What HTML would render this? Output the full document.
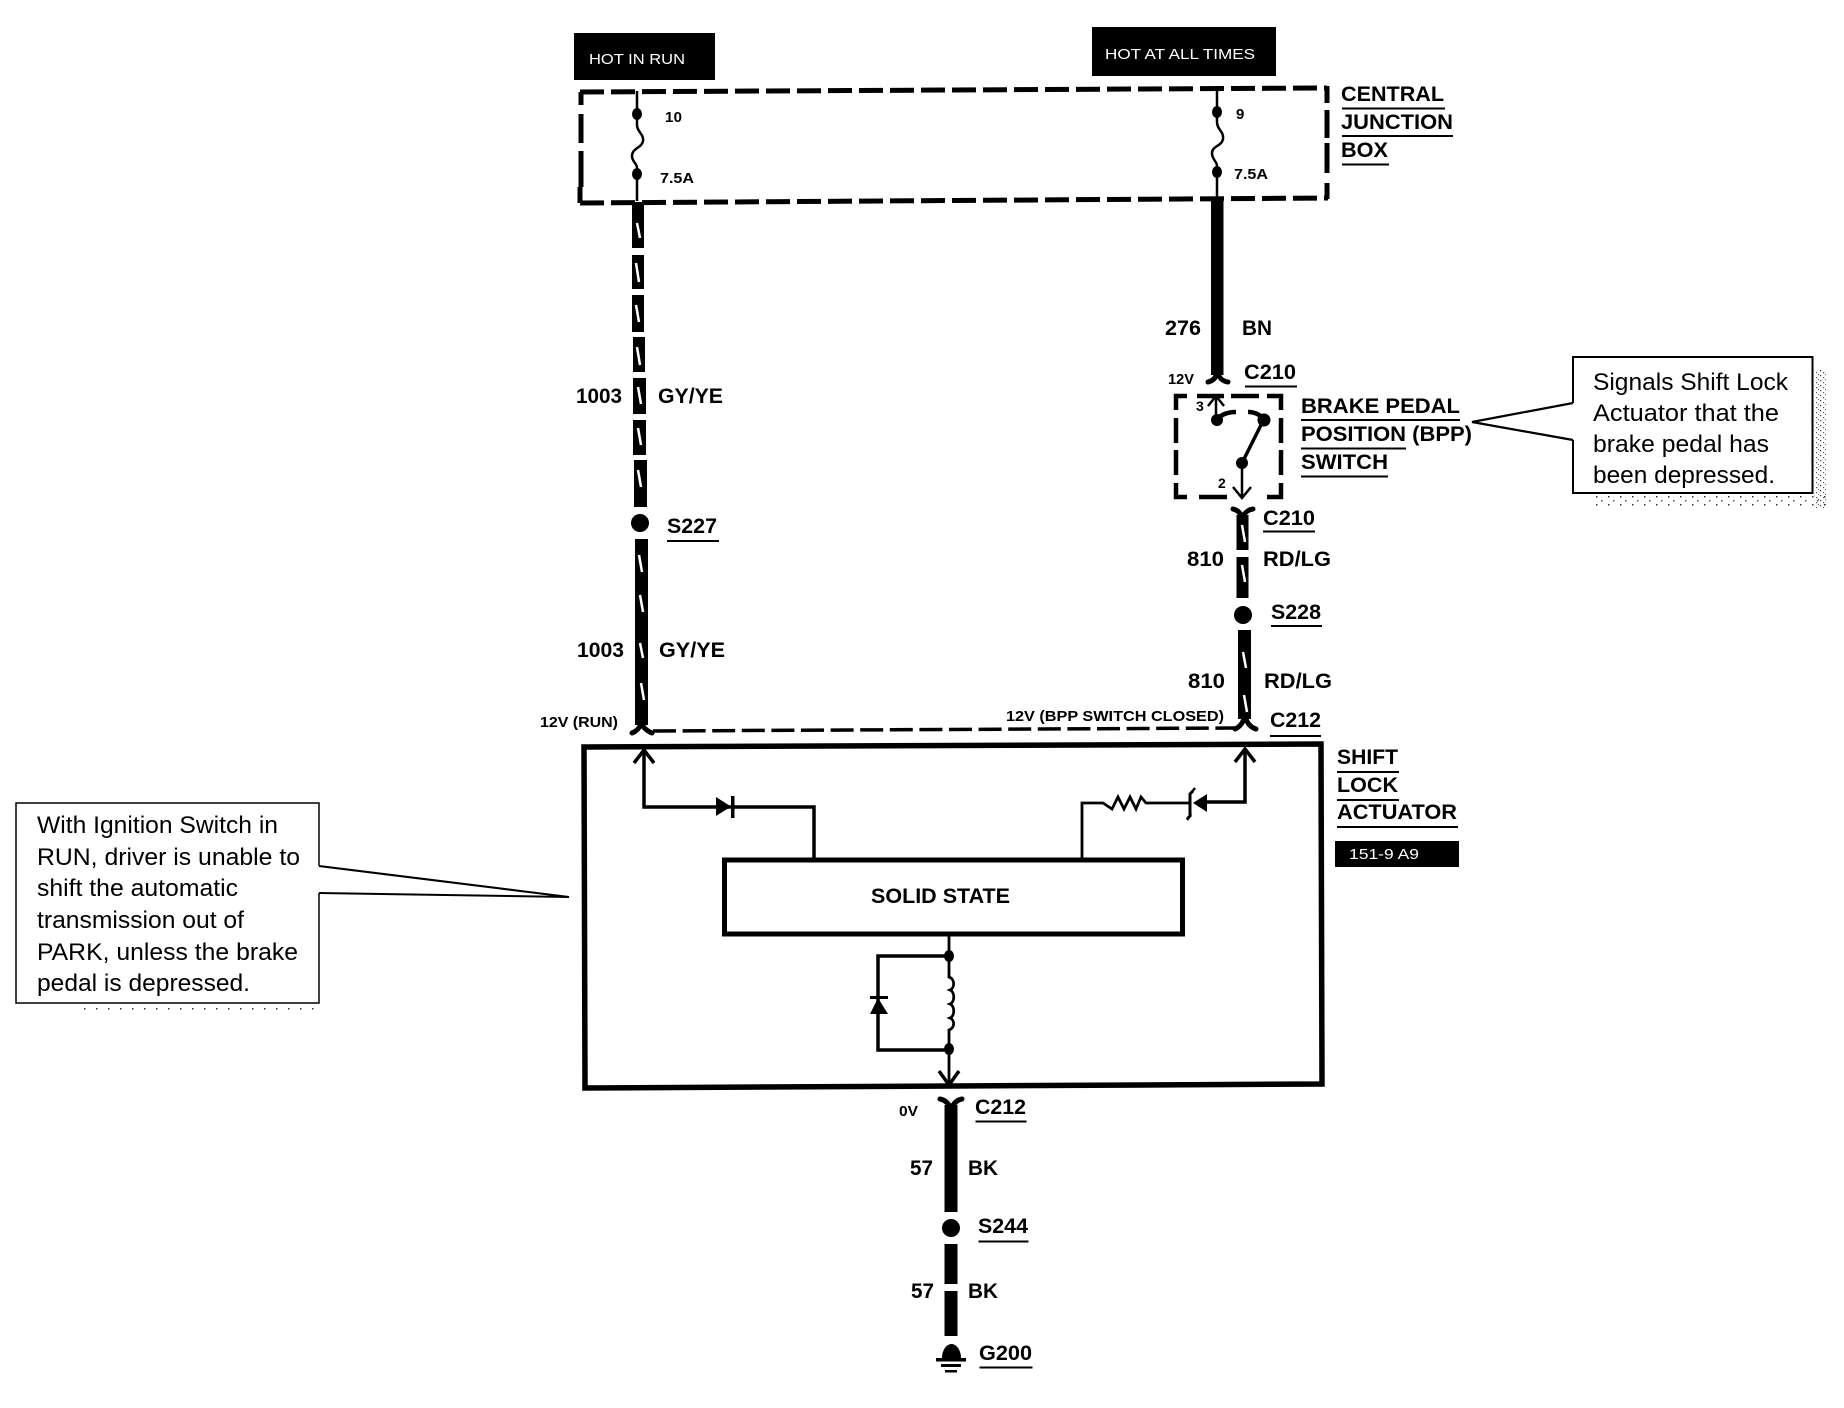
<!DOCTYPE html>
<html><head><meta charset="utf-8"><style>
html,body{margin:0;padding:0;background:#fff}
svg{display:block}
text{font-family:"Liberation Sans",Arial,sans-serif;fill:#000;transform:translate(-1px,-1px)}
.b{font-weight:bold}
.f21{font-size:21px;font-weight:bold}
.f15{font-size:15px;font-weight:bold}
.r{font-size:24.5px}
.w{fill:#fff;font-size:15px}
</style></head><body>
<svg width="1844" height="1408" viewBox="0 0 1844 1408" xmlns="http://www.w3.org/2000/svg">
<defs>
<pattern id="n" width="7" height="5" patternUnits="userSpaceOnUse"><rect x="0" y="0" width="1.2" height="1.2" fill="#333"/><rect x="3" y="2" width="1.2" height="1.2" fill="#555"/><rect x="5" y="4" width="1" height="1" fill="#666"/></pattern>
<pattern id="m" width="12" height="8" patternUnits="userSpaceOnUse"><rect x="0" y="0" width="1.5" height="1.5" fill="#333"/><rect x="5" y="4" width="1.5" height="1.5" fill="#555"/></pattern>
</defs>
<rect width="1844" height="1408" fill="#fff"/>

<!-- header tags -->
<rect x="574" y="33" width="141" height="47" fill="#000"/>
<text class="w" x="590" y="65" textLength="96" lengthAdjust="spacingAndGlyphs">HOT IN RUN</text>
<rect x="1092" y="27" width="184" height="49" fill="#000"/>
<text class="w" x="1106" y="60" textLength="150" lengthAdjust="spacingAndGlyphs">HOT AT ALL TIMES</text>

<!-- central junction box dashed -->
<g fill="none" stroke="#000" stroke-width="5">
<path d="M580,92L1327,88" stroke-dasharray="24 7"/>
<path d="M580,203L1328,198" stroke-dasharray="24 7"/>
<path d="M581,105V92M581,114V143M581,151V187M580,187V203M1327,86V103M1327,110V138M1327,143V173M1327,183V199"/>
</g>

<!-- fuses -->
<g fill="none" stroke="#000" stroke-width="2.5">
<path d="M637,91V125C637,132 644,134 643,141C642,148 632,148 632,156C632,162 637,163 637,168V201"/>
<path d="M1217,88V122C1217,130 1224,131 1223,139C1222,146 1212,146 1212,153C1212,160 1217,161 1217,166V198"/>
</g>
<ellipse cx="637" cy="114" rx="5" ry="6"/><ellipse cx="637" cy="174" rx="5" ry="6"/>
<ellipse cx="1217" cy="112" rx="5" ry="6"/><ellipse cx="1217" cy="172" rx="5" ry="6"/>
<text class="b" font-size="15" x="666" y="123" textLength="17">10</text>
<text class="b" font-size="15" x="661" y="184" textLength="34" lengthAdjust="spacingAndGlyphs">7.5A</text>
<text class="b" font-size="15" x="1237" y="120">9</text>
<text class="b" font-size="15" x="1235" y="180" textLength="34" lengthAdjust="spacingAndGlyphs">7.5A</text>

<text class="f21" x="1342" y="102" textLength="103" lengthAdjust="spacingAndGlyphs">CENTRAL</text>
<text class="f21" x="1342" y="130" textLength="112" lengthAdjust="spacingAndGlyphs">JUNCTION</text>
<text class="f21" x="1342" y="158" textLength="47" lengthAdjust="spacingAndGlyphs">BOX</text>
<path d="M1342,108.5H1445M1342,136H1453M1342,164.5H1389" stroke="#000" stroke-width="2" fill="none"/>

<!-- left wire -->
<g>
<rect x="632" y="202" width="12" height="46"/>
<rect x="632" y="255" width="12" height="34"/>
<rect x="632" y="295" width="12" height="37"/>
<rect x="633" y="337" width="12" height="35"/>
<rect x="633" y="378" width="13" height="36"/>
<rect x="633" y="420" width="13" height="35"/>
<rect x="634" y="460" width="13" height="47"/>
<circle cx="640" cy="523" r="9"/>
<rect x="635" y="539" width="13" height="186"/>
</g>
<path d="M632,733C637,731 640,728 641,722C643,728 647,731 652,733" fill="none" stroke="#000" stroke-width="5" stroke-linecap="round"/>
<path d="M637,223L640,238M636,263L639,282M636,305L639,322M637,347L640,365M638,387L641,404M638,428L641,445M638,470L641,487M639,555L642,572M640,595L643,612M640,643L643,658M641,683L644,700" stroke="#fff" stroke-width="2.5" fill="none"/>
<text class="f21" x="577" y="404" textLength="46" lengthAdjust="spacingAndGlyphs">1003</text>
<text class="f21" x="659" y="404" textLength="65" lengthAdjust="spacingAndGlyphs">GY/YE</text>
<text class="f21" x="668" y="534" textLength="50" lengthAdjust="spacingAndGlyphs">S227</text>
<path d="M667,541H719" stroke="#000" stroke-width="2"/>
<text class="f21" x="578" y="658" textLength="47" lengthAdjust="spacingAndGlyphs">1003</text>
<text class="f21" x="660" y="658" textLength="66" lengthAdjust="spacingAndGlyphs">GY/YE</text>
<text class="f15" x="541" y="728" textLength="78" lengthAdjust="spacingAndGlyphs">12V (RUN)</text>

<!-- dashed signal line -->
<path d="M653,731L1236,728" stroke="#000" stroke-width="3.5" stroke-dasharray="23 6.6" fill="none"/>
<text class="f15" x="1007" y="722" textLength="218" lengthAdjust="spacingAndGlyphs">12V (BPP SWITCH CLOSED)</text>

<!-- right wire top -->
<rect x="1211" y="197" width="12.5" height="178"/>
<path d="M1208,382C1213,381 1216,378 1217.5,372C1219,378 1222,381 1228,382" fill="none" stroke="#000" stroke-width="5" stroke-linecap="round"/>
<text class="f21" x="1166" y="336" textLength="36" lengthAdjust="spacingAndGlyphs">276</text>
<text class="f21" x="1243" y="336" textLength="30" lengthAdjust="spacingAndGlyphs">BN</text>
<text class="f15" x="1169" y="385" textLength="26" lengthAdjust="spacingAndGlyphs">12V</text>
<text class="f21" x="1245" y="380" textLength="52" lengthAdjust="spacingAndGlyphs">C210</text>
<path d="M1245,386.5H1297" stroke="#000" stroke-width="2"/>

<!-- BPP switch -->
<g fill="none" stroke="#000" stroke-width="4.5">
<path d="M1176,410V396H1187M1197,396H1224M1231,396H1259M1267,396H1281V410M1176,418V443M1176,450V475M1176,483V497H1187M1199,497H1227M1267,497H1281V483M1281,418V443M1281,450V475"/>
</g>
<g fill="none" stroke="#000" stroke-width="2.5">
<path d="M1216,420V396M1208,406L1216,396L1224,406"/>
<path d="M1242,463V497M1233,487L1242,498L1251,487"/>
</g>
<path d="M1217,419C1222,414 1228,412 1236,412M1248,412C1256,412 1262,416 1264,420" fill="none" stroke="#000" stroke-width="4.5"/>
<path d="M1263,421L1242,463" fill="none" stroke="#000" stroke-width="3.5"/>
<circle cx="1217" cy="420" r="6"/><circle cx="1264" cy="420" r="6.5"/><circle cx="1242" cy="463" r="6"/>
<text class="b" font-size="14" x="1197" y="412">3</text>
<text class="b" font-size="14" x="1219" y="489">2</text>
<text class="f21" x="1302" y="414" textLength="159" lengthAdjust="spacingAndGlyphs">BRAKE PEDAL</text>
<text class="f21" x="1302" y="442" textLength="171" lengthAdjust="spacingAndGlyphs">POSITION (BPP)</text>
<text class="f21" x="1302" y="470" textLength="87" lengthAdjust="spacingAndGlyphs">SWITCH</text>
<path d="M1301,420H1460M1301,448.5H1406M1301,476.5H1388" stroke="#000" stroke-width="2" fill="none"/>

<!-- right callout -->
<path d="M1573,403V357H1812.5V493H1573V440L1472,422Z" fill="#fff" stroke="none"/>
<path d="M1573,403V357H1812.5V493H1573V440" fill="none" stroke="#000" stroke-width="2"/>
<path d="M1573,403L1472,422L1573,440" fill="none" stroke="#000" stroke-width="2.2"/>
<text class="r" x="1594" y="391" textLength="195" lengthAdjust="spacingAndGlyphs">Signals Shift Lock</text>
<text class="r" x="1594" y="422" textLength="186" lengthAdjust="spacingAndGlyphs">Actuator that the</text>
<text class="r" x="1594" y="453" textLength="176" lengthAdjust="spacingAndGlyphs">brake pedal has</text>
<text class="r" x="1594" y="484" textLength="182" lengthAdjust="spacingAndGlyphs">been depressed.</text>
<rect x="1814" y="370" width="13" height="138" fill="url(#n)"/>
<rect x="1595" y="496" width="232" height="12" fill="url(#m)"/>

<!-- lower right wire -->
<path d="M1233,509C1238,510 1241,513 1242.5,519C1244,513 1247,510 1253,509" fill="none" stroke="#000" stroke-width="5" stroke-linecap="round"/>
<rect x="1236.5" y="515" width="12" height="35"/>
<rect x="1236.5" y="557" width="12" height="41"/>
<circle cx="1243" cy="615" r="9"/>
<rect x="1238" y="630" width="13" height="89"/>
<path d="M1235,729C1240,727 1243,723 1245,716C1247,723 1250,727 1256,729" fill="none" stroke="#000" stroke-width="5" stroke-linecap="round"/>
<path d="M1242,525L1245,542M1242,565L1245,582M1243,652L1246,668M1244,695L1247,712" stroke="#fff" stroke-width="2.5" fill="none"/>
<text class="f21" x="1264" y="526" textLength="52" lengthAdjust="spacingAndGlyphs">C210</text>
<path d="M1263,531.5H1315" stroke="#000" stroke-width="2"/>
<text class="f21" x="1188" y="567" textLength="37" lengthAdjust="spacingAndGlyphs">810</text>
<text class="f21" x="1264" y="567" textLength="68" lengthAdjust="spacingAndGlyphs">RD/LG</text>
<text class="f21" x="1272" y="620" textLength="50" lengthAdjust="spacingAndGlyphs">S228</text>
<path d="M1271,626H1322" stroke="#000" stroke-width="2"/>
<text class="f21" x="1189" y="689" textLength="37" lengthAdjust="spacingAndGlyphs">810</text>
<text class="f21" x="1265" y="689" textLength="68" lengthAdjust="spacingAndGlyphs">RD/LG</text>
<text class="f21" x="1271" y="728" textLength="51" lengthAdjust="spacingAndGlyphs">C212</text>
<path d="M1270,736H1321" stroke="#000" stroke-width="2"/>

<!-- actuator box -->
<path d="M584,747L1321,744L1322,1084L585,1088Z" fill="none" stroke="#000" stroke-width="5.5"/>
<g fill="none" stroke="#000" stroke-width="3.5">
<path d="M644,750V807H814V860"/>
<path d="M634,763L644,750L654,763"/>
<path d="M1245,749V802H1207"/>
<path d="M1235,762L1245,749L1255,762"/>
<path d="M1190,803H1146L1141,797L1136,809L1130,797L1124,809L1118,797L1112,809L1103,803H1082V860" stroke-width="2.8"/>
</g>
<path d="M716,797L731,806.5L716,816Z"/><rect x="731" y="796" width="3.5" height="22"/>
<path d="M1207,794L1193,803L1207,812Z"/>
<path d="M1193,791L1190,794V816L1187,819" fill="none" stroke="#000" stroke-width="3"/>
<path d="M1195,788L1191,793M1191,814L1187,820" fill="none" stroke="#000" stroke-width="2.5"/>

<rect x="724.5" y="860" width="458" height="74" fill="#fff" stroke="#000" stroke-width="5"/>
<text class="f21" x="872" y="904" textLength="139" lengthAdjust="spacingAndGlyphs">SOLID STATE</text>

<g fill="none" stroke="#000">
<path d="M949,935V977C955,979 955,988 950,990C955,992 955,1002 950,1004C955,1006 955,1016 950,1018C955,1020 955,1028 949,1030V1083" stroke-width="2.8"/>
<path d="M949,956H878V1050H949" stroke-width="3.5"/>
<path d="M939,1071L949,1085L959,1071" stroke-width="3.5"/>
</g>
<ellipse cx="949" cy="956" rx="5" ry="6"/><ellipse cx="949" cy="1049" rx="5" ry="6"/>
<path d="M878,998L888,1014H870Z"/><rect x="870" y="996" width="18" height="3"/>

<!-- shift lock actuator label -->
<text class="f21" x="1338" y="765" textLength="61" lengthAdjust="spacingAndGlyphs">SHIFT</text>
<text class="f21" x="1338" y="793" textLength="61" lengthAdjust="spacingAndGlyphs">LOCK</text>
<text class="f21" x="1338" y="820" textLength="120" lengthAdjust="spacingAndGlyphs">ACTUATOR</text>
<path d="M1337,772H1399M1337,800H1399M1337,827H1458" stroke="#000" stroke-width="2" fill="none"/>
<rect x="1335" y="841" width="124" height="26" fill="#000"/>
<text class="w" x="1350" y="860" textLength="70" lengthAdjust="spacingAndGlyphs">151-9 A9</text>

<!-- left callout -->
<path d="M319,866V803H16V1003H319V893L569,897Z" fill="#fff"/>
<path d="M319,866V803H16V1003H319V893" fill="none" stroke="#000" stroke-width="1.5"/>
<path d="M319,866L569,897L319,893" fill="none" stroke="#000" stroke-width="2"/>
<text class="r" x="38" y="834" textLength="241" lengthAdjust="spacingAndGlyphs">With Ignition Switch in</text>
<text class="r" x="38" y="866" textLength="263" lengthAdjust="spacingAndGlyphs">RUN, driver is unable to</text>
<text class="r" x="38" y="897" textLength="201" lengthAdjust="spacingAndGlyphs">shift the automatic</text>
<text class="r" x="38" y="929" textLength="207" lengthAdjust="spacingAndGlyphs">transmission out of</text>
<text class="r" x="38" y="961" textLength="261" lengthAdjust="spacingAndGlyphs">PARK, unless the brake</text>
<text class="r" x="38" y="992" textLength="213" lengthAdjust="spacingAndGlyphs">pedal is depressed.</text>
<rect x="80" y="1006" width="240" height="6" fill="url(#m)"/>

<!-- bottom wire -->
<path d="M940,1099C945,1100 949,1103 951,1110C953,1103 957,1100 962,1099" fill="none" stroke="#000" stroke-width="5" stroke-linecap="round"/>
<rect x="944.5" y="1105" width="13" height="107"/>
<circle cx="951" cy="1228" r="9"/>
<rect x="944.5" y="1244" width="13" height="40"/>
<rect x="944.5" y="1291" width="13" height="45"/>
<path d="M942,1358A9.5,14 0 0 1 961,1358Z"/>
<rect x="936" y="1358" width="30" height="3.5"/>
<rect x="941" y="1364" width="20" height="3"/>
<rect x="945" y="1370" width="12" height="2.5"/>
<text class="f15" x="900" y="1117" textLength="19" lengthAdjust="spacingAndGlyphs">0V</text>
<text class="f21" x="976" y="1115" textLength="51" lengthAdjust="spacingAndGlyphs">C212</text>
<path d="M975.5,1121.5H1026.5" stroke="#000" stroke-width="2"/>
<text class="f21" x="911" y="1176" textLength="23" lengthAdjust="spacingAndGlyphs">57</text>
<text class="f21" x="969" y="1176" textLength="30" lengthAdjust="spacingAndGlyphs">BK</text>
<text class="f21" x="979" y="1234" textLength="50" lengthAdjust="spacingAndGlyphs">S244</text>
<path d="M978.5,1241.5H1028.5" stroke="#000" stroke-width="2"/>
<text class="f21" x="912" y="1299" textLength="23" lengthAdjust="spacingAndGlyphs">57</text>
<text class="f21" x="969" y="1299" textLength="30" lengthAdjust="spacingAndGlyphs">BK</text>
<text class="f21" x="980" y="1361" textLength="53" lengthAdjust="spacingAndGlyphs">G200</text>
<path d="M979.5,1367.5H1032.5" stroke="#000" stroke-width="2"/>
</svg>
</body></html>
